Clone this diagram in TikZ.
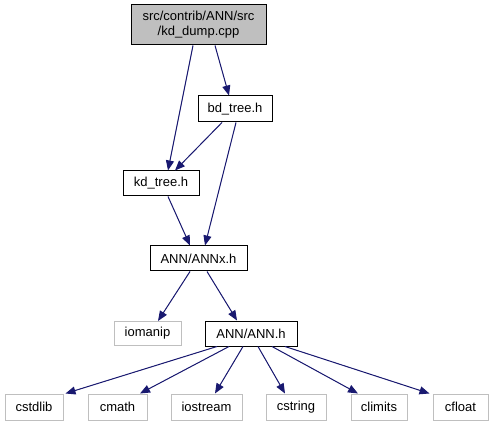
\documentclass[tikz,border=0pt]{standalone}
\usepackage{fontspec}
\setmainfont{Liberation Sans}
\usetikzlibrary{arrows.meta}
\definecolor{edgeblue}{HTML}{191970}
\definecolor{sysgray}{HTML}{BFBFBF}
\tikzset{every picture/.style={line width=1pt}}

\begin{document}
\begin{tikzpicture}[x=1pt, y=-1pt, >={Triangle[length=10pt, width=8pt]},
    every node/.style={font=\fontsize{13}{15}\selectfont, inner sep=0pt},
    filebox/.style={rectangle, draw=black, minimum height=25pt},
    sysbox/.style={rectangle, draw=sysgray, minimum height=26pt},
    dep/.style={->, draw=edgeblue, fill=edgeblue}]
        \useasboundingbox (0,0) rectangle (492,427);
        \node[filebox, fill=sysgray, minimum width=135pt, minimum height=40pt, align=center] (dump) at (198.5, 25) {src/contrib/ANN/src\\/kd\_dump.cpp};
        \node[filebox, minimum width=74pt, minimum height=26pt] (bd)   at (235, 109)   {bd\_tree.h};
        \node[filebox, minimum width=76pt] (kd)   at (161, 183.5) {kd\_tree.h};
        \node[filebox, minimum width=97pt] (annx) at (198.5, 258.5) {ANN/ANNx.h};
        \node[sysbox, minimum width=67pt, minimum height=24pt] (iomanip) at (147.5, 333.5) {iomanip};
        \node[filebox, minimum width=92pt] (ann)  at (251, 333.5) {ANN/ANN.h};
        \node[sysbox, minimum width=58pt] (cstdlib)  at (34, 407)    {cstdlib};
        \node[sysbox, minimum width=59pt] (cmath)    at (117.5, 407) {cmath};
        \node[sysbox, minimum width=71pt] (iostream) at (206.5, 407) {iostream};
        \node[sysbox, minimum width=60pt] (cstring)  at (296, 407)   {cstring};
        \node[sysbox, minimum width=56pt] (climits)  at (379, 407)   {climits};
        \node[sysbox, minimum width=55pt] (cfloat)   at (460.5, 407) {cfloat};
        \draw[dep] ([xshift=-5.5pt]dump.south) -- ([xshift=7pt]kd.north);
        \draw[dep] ([xshift=16.5pt]dump.south) -- ([xshift=-6pt]bd.north);
        \draw[dep] ([xshift=-13pt]bd.south) -- ([xshift=14pt]kd.north);
        \draw[dep] ([xshift=1pt]bd.south) -- ([xshift=6.5pt]annx.north);
        \draw[dep] ([xshift=7pt]kd.south) -- ([xshift=-8.5pt]annx.north);
        \draw[dep] ([xshift=-8.5pt]annx.south) -- ([xshift=10.5pt]iomanip.north);
        \draw[dep] ([xshift=8.5pt]annx.south) -- ([xshift=-14pt]ann.north);
        \draw[dep] ([xshift=-34pt]ann.south) -- ([xshift=2pt]cstdlib.north east);
        \draw[dep] ([xshift=-22pt]ann.south) -- ([xshift=22.5pt]cmath.north);
        \draw[dep] ([xshift=-8pt]ann.south) -- ([xshift=8.5pt]iostream.north);
        \draw[dep] ([xshift=7pt]ann.south) -- ([xshift=-11pt]cstring.north);
        \draw[dep] ([xshift=21pt]ann.south) -- ([xshift=-21pt]climits.north);
        \draw[dep] ([xshift=34pt]ann.south) -- ([xshift=-3pt]cfloat.north west);
    \end{tikzpicture}
\end{document}
